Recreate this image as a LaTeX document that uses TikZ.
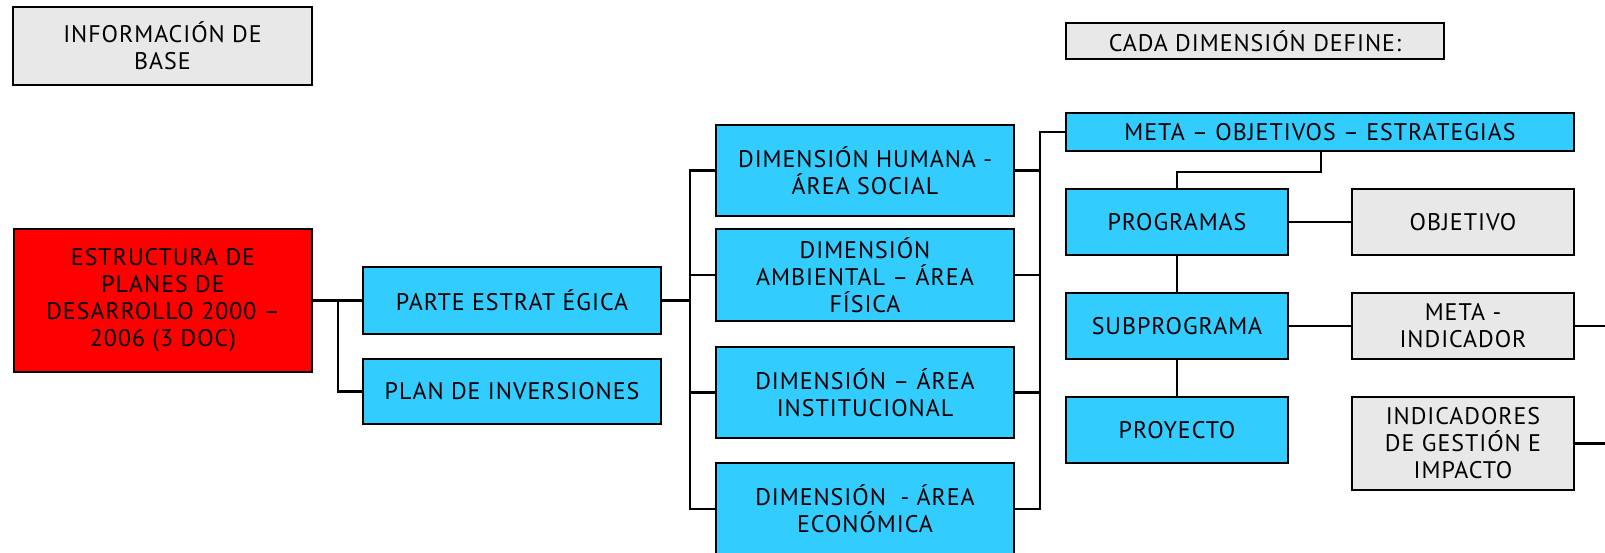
\documentclass[tikz,border=0pt]{standalone}
\usepackage{fontspec}
\setmainfont[LetterSpace=4]{PT Sans}
\definecolor{boxblue}{HTML}{33CCFF}
\definecolor{boxgrey}{HTML}{E8E8E8}
\definecolor{boxred}{HTML}{FF0000}
\begin{document}
\begin{tikzpicture}[x=0.5pt,y=-0.5pt,
  every node/.style={font=\fontsize{12pt}{13.5pt}\selectfont, align=center, inner sep=0pt},
  base/.style={draw=black, line width=1pt},
  bluebox/.style={base, fill=boxblue},
  greybox/.style={base, fill=boxgrey},
  redbox/.style={base, fill=boxred},
  wh/.style 2 args={minimum width=#1*0.5pt, minimum height=#2*0.5pt},
  link/.style={draw=black, line width=1.1pt, line cap=rect}]
\useasboundingbox (0,0) rectangle (1605,552);

% header boxes
\node[greybox, wh={299}{78}] (info) at (162.5,46) {INFORMACIÓN DE\\BASE};
\node[greybox, wh={378}{36}] (cada) at (1255,41) {CADA DIMENSIÓN DEFINE:};

% main structure
\node[redbox, wh={298}{143}] (root) at (163,300.5) {ESTRUCTURA DE\\PLANES DE\\DESARROLLO 2000 –\\2006 (3 DOC)};
\node[bluebox, wh={298}{67}] (parte) at (512,300.5) {PARTE ESTRAT ÉGICA};
\node[bluebox, wh={298}{65}] (plan) at (512,391.5) {PLAN DE INVERSIONES};

% dimensions
\node[bluebox, wh={298}{91}] (hum) at (865,170.5) {DIMENSIÓN HUMANA -\\ÁREA SOCIAL};
\node[bluebox, wh={298}{92}] (amb) at (865,275) {DIMENSIÓN\\AMBIENTAL – ÁREA\\FÍSICA};
\node[bluebox, wh={298}{91}] (inst) at (865,392.5) {DIMENSIÓN – ÁREA\\INSTITUCIONAL};
\node[bluebox, wh={298}{92}] (econ) at (865,509) {DIMENSIÓN \ - ÁREA\\ECONÓMICA};

% what each dimension defines
\node[bluebox, wh={508}{38}] (meta) at (1320,132) {META – OBJETIVOS – ESTRATEGIAS};
\node[bluebox, wh={222}{66}] (prog) at (1177,222) {PROGRAMAS};
\node[bluebox, wh={222}{66}] (sub) at (1177,326) {SUBPROGRAMA};
\node[bluebox, wh={222}{66}] (proy) at (1177,430) {PROYECTO};
\node[greybox, wh={222}{66}] (obj) at (1463,222) {OBJETIVO};
\node[greybox, wh={222}{66}] (metaind) at (1463,326) {META -\\INDICADOR};
\node[greybox, wh={222}{93}] (indic) at (1463,443.5) {INDICADORES\\DE GESTIÓN E\\IMPACTO};

% junction columns and free ends
\coordinate (c1) at (338,0);
\coordinate (c2) at (690,0);
\coordinate (j3) at (1040,132);
\coordinate (j4) at (1321,172);
\coordinate (e1) at (1605,326);
\coordinate (e2) at (1605,443.5);

% connectors
\draw[link] (root.east) -- (parte.west);
\draw[link] (root.east -| c1) |- (plan.west);
\draw[link] (parte.east) -- (parte.east -| c2);
\draw[link] (hum.west) -| (c2 |- econ.west) -- (econ.west);
\draw[link] (amb.west) -- (amb.west -| c2);
\draw[link] (inst.west) -- (inst.west -| c2);
\draw[link] (meta.west) -- (j3) |- (econ.east);
\draw[link] (hum.east) -- (hum.east -| j3);
\draw[link] (amb.east) -- (amb.east -| j3);
\draw[link] (inst.east) -- (inst.east -| j3);
\draw[link] (meta.south -| j4) -- (j4) -| (prog.north);
\draw[link] (prog.south) -- (sub.north);
\draw[link] (sub.south) -- (proy.north);
\draw[link] (prog.east) -- (obj.west);
\draw[link] (sub.east) -- (metaind.west);
\draw[link] (metaind.east) -- (e1);
\draw[link] (indic.east) -- (e2);
\end{tikzpicture}
\end{document}
